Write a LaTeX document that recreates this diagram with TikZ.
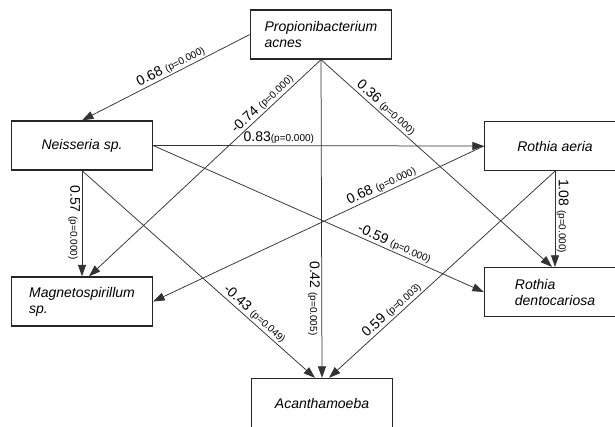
\documentclass[tikz,border=0pt]{standalone}
\usepackage{fontspec}
\setmainfont{Liberation Sans}
\usetikzlibrary{arrows.meta}
\newcommand{\pvtext}[1]{{\fontsize{10}{12}\selectfont(p=#1)}}
\begin{document}
\begin{tikzpicture}[x=1pt,y=-1pt,
  box/.style={draw=black!85, line width=1.3pt, minimum width=141pt, minimum height=49pt,
              inner sep=0pt, align=left, font=\fontsize{14}{16}\selectfont\itshape},
  conn/.style={draw=black!80, line width=0.75pt, -{Triangle[length=11.5pt,width=8pt]}},
  lab/.style={sloped, inner sep=1.5pt, font=\fontsize{14}{16}\selectfont},
]
\fill[white] (0,0) rectangle (615,426);
\useasboundingbox (0,0) rectangle (615,426);

\node[box] (P)  at (321,34.5)  {Propionibacterium\\acnes};
\node[box] (N)  at (82,145.5)  {Neisseria sp.};
\node[box] (RA) at (555,146)   {Rothia aeria};
\node[box] (M)  at (82,301.5)  {Magnetospirillum\\sp.};
\node[box] (RD) at (555,292)   {Rothia\\dentocariosa};
\node[box] (A)  at (322,403)   {Acanthamoeba};

\draw[conn] (P.west) -- node[lab,pos=0.45,above] {0.68 \pvtext{0.000}} (N.north);
\draw[conn] (P.south) -- node[lab,pos=0.23,above] {-0.74 \pvtext{0.000}} ([xshift=7pt]M.north);
\draw[conn] (P.south) -- node[lab,pos=0.75,below] {0.42 \pvtext{0.005}} (A.north);
\draw[conn] (P.south) -- node[lab,pos=0.26,above] {0.36 \pvtext{0.000}} ([xshift=-3pt]RD.north);
\draw[conn] (N.east) -- node[lab,pos=0.38,above] {0.83\pvtext{0.000}} (RA.west);
\draw[conn] (N.east) -- node[lab,pos=0.72,above] {-0.59 \pvtext{0.000}} (RD.west);
\draw[conn] (N.south) -- node[lab,pos=0.72,above] {-0.43 \pvtext{0.049}} ([xshift=-7pt]A.north);
\draw[conn] (N.south) -- node[lab,pos=0.49,below] {0.57 \pvtext{0.000}} (M.north);
\draw[conn] (RA.west) -- node[lab,pos=0.30,above] {0.68 \pvtext{0.000}} (M.east);
\draw[conn] (RA.south) -- node[lab,pos=0.47,above] {1.08 \pvtext{0.000}} (RD.north);
\draw[conn] (RA.south) -- node[lab,pos=0.70,above] {0.59 \pvtext{0.003}} ([xshift=7pt]A.north);
\end{tikzpicture}
\end{document}
